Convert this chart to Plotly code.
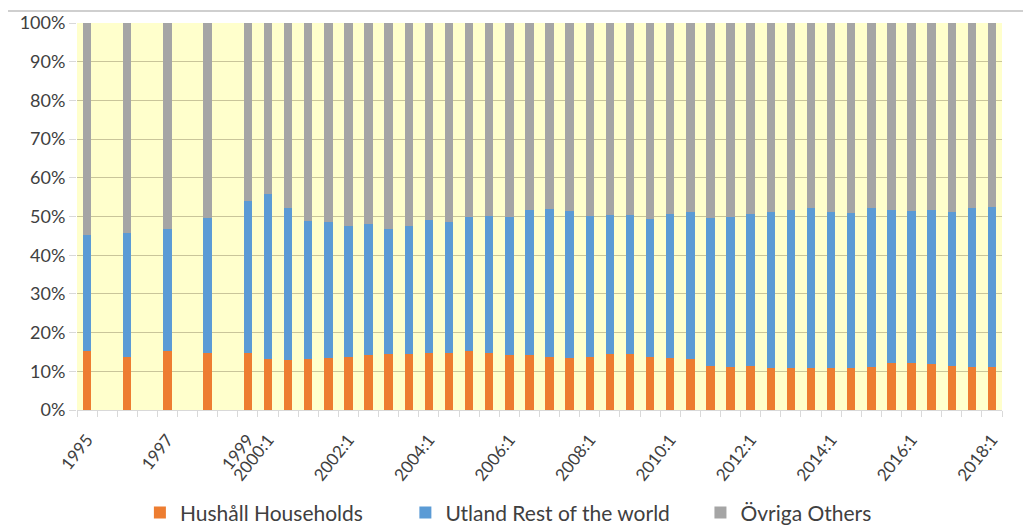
import plotly.graph_objects as go

# category slots (annual data 1995-1999 every second slot, then half-years)
annual_years = ["1995", "1996", "1997", "1998", "1999"]
annual_pos = [0, 2, 4, 6, 8]
half_labels = [f"{y}:{h}" for y in range(2000, 2018) for h in (1, 2)] + ["2018:1"]
half_pos = list(range(9, 9 + len(half_labels)))

categories = annual_years + half_labels
positions = annual_pos + half_pos

households = [15.3, 13.6, 15.3, 14.8, 14.8,
              13.3, 13.0, 13.3, 13.4, 13.6, 14.2, 14.4, 14.4, 14.8, 14.8,
              15.3, 14.7, 14.2, 14.2, 13.8, 13.4, 13.6, 14.4, 14.5, 13.8,
              13.4, 13.3, 11.4, 11.2, 11.4, 10.8, 10.9, 10.8, 10.9, 10.9,
              11.0, 12.1, 12.1, 11.8, 11.5, 11.0, 11.0]
hh_plus_row = [45.3, 45.7, 46.8, 49.7, 54.1,
               55.9, 52.2, 48.8, 48.5, 47.6, 48.0, 46.9, 47.6, 49.1, 48.7,
               49.8, 50.2, 49.8, 51.6, 51.9, 51.5, 50.2, 50.3, 50.3, 49.4,
               50.6, 51.1, 49.6, 49.8, 50.6, 51.1, 51.6, 52.1, 51.1, 51.0,
               52.2, 51.7, 51.3, 51.6, 51.1, 52.1, 52.4]
rest_of_world = [round(t - h, 1) for t, h in zip(hh_plus_row, households)]
others = [round(100 - t, 1) for t in hh_plus_row]

tick_labels = ["1995", "1997", "1999", "2000:1", "2002:1", "2004:1", "2006:1",
               "2008:1", "2010:1", "2012:1", "2014:1", "2016:1", "2018:1"]
pos_of = dict(zip(categories, positions))
tick_pos = [pos_of[t] for t in tick_labels]

series = [
    ("Hushåll Households", households, "#ED7D31", "legend", 0.068),
    ("Utland Rest of the world", rest_of_world, "#5B9BD5", "legend2", 0.355),
    ("Övriga Others", others, "#A5A5A5", "legend3", 0.674),
]

fig = go.Figure()
legend_cfg = {}
for name, vals, col, leg, lx in series:
    fig.add_trace(go.Bar(x=positions, y=vals, name=name, width=0.42, legend=leg,
                         showlegend=True,
                         marker=dict(color=col, line=dict(width=0))))
    legend_cfg[leg] = dict(orientation="h", x=lx, xanchor="left", y=-0.266,
                           yanchor="middle", font=dict(size=21, color="#404040"),
                           itemwidth=30, bgcolor="rgba(0,0,0,0)")

fig.update_layout(
    barmode="stack",
    showlegend=True,
    width=1023, height=517,
    margin=dict(l=69, r=29, t=15, b=115, autoexpand=False),
    paper_bgcolor="white",
    plot_bgcolor="#FFFFCC",
    font=dict(family="Lato, 'Open Sans', sans-serif", color="#404040", size=16),
    xaxis=dict(range=[-0.5, 45.5], tickmode="array", tickvals=tick_pos,
               ticktext=tick_labels, tickangle=-52, showgrid=False,
               ticks="outside", ticklen=12, tickcolor="rgba(0,0,0,0)",
               showline=True, linecolor="#D9D9D9", linewidth=1,
               tickfont=dict(size=17, color="#404040"), automargin=False,
               minor=dict(tick0=-0.5, dtick=1, ticks="outside", ticklen=6,
                          tickcolor="#D9D9D9", showgrid=False),
               zeroline=False),
    yaxis=dict(range=[0, 100], tickmode="array", tickvals=list(range(0, 101, 10)),
               ticktext=[f"{v}%" for v in range(0, 101, 10)],
               showgrid=True, gridcolor="#C9C59A", gridwidth=1,
               ticks="outside", ticklen=7, tickcolor="#D9D9D9", automargin=False,
               tickfont=dict(size=18, color="#404040"), zeroline=False,
               showline=False),
    bargap=0,
    **legend_cfg,
)
fig.add_shape(type="line", xref="paper", yref="paper", x0=-0.075, x1=1.03,
              y0=1.031, y1=1.031, line=dict(color="#BFBFBF", width=1.5))
fig.write_html("out.html")
